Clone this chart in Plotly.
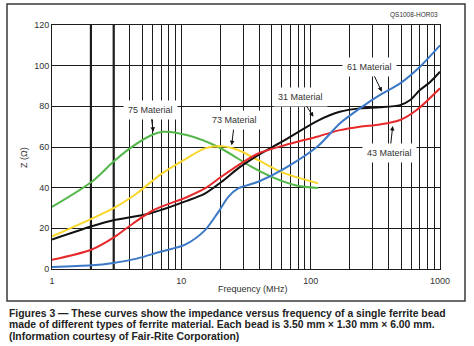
import math
import plotly.graph_objects as go

# ---- data ----
f_75 = [1, 2.03, 2.98, 4.0, 5.7, 7.2, 11, 19.3, 35, 50, 76, 114]
z_75 = [30.5, 42.9, 52.7, 59.3, 65.4, 67.5, 65.9, 60, 50.2, 45.3, 41.2, 39.8]

f_73 = [1, 2.03, 2.98, 4.52, 6.8, 11, 15.2, 20.5, 27.5, 39.3, 63, 114]
z_73 = [16, 24.8, 29.8, 37.1, 46.2, 54.4, 59.3, 60.4, 58.5, 53.5, 47, 42.2]

f_31 = [1, 2.03, 2.98, 5.7, 11, 15.2, 20.5, 27.5, 39.3, 63, 114, 168, 240, 344, 492, 585, 700, 840, 1000]
z_31 = [14.5, 21, 24, 27.3, 33.5, 37.1, 42.9, 49.5, 56, 63.4, 73, 77.3, 79, 79.5, 80.6, 83, 88, 92, 97]

f_43 = [1, 2.03, 3.05, 4.23, 6.06, 11, 15.2, 20.5, 27.5, 39.3, 63, 114, 168, 240, 344, 492, 660, 1000]
z_43 = [4.5, 9.6, 15.8, 22.4, 28.9, 35.3, 39.6, 45.5, 51, 56.8, 60.9, 65.2, 68.3, 70, 71.1, 73.3, 78.2, 88.9]

f_61 = [1, 2.03, 2.98, 4.52, 6.8, 10.7, 15.2, 19.3, 23.1, 27.5, 39.3, 63, 114, 168, 240, 344, 492, 700, 1000]
z_61 = [1, 1.8, 3, 5.1, 8.4, 12, 19, 28, 35.5, 39.6, 42.9, 49.5, 60.5, 71.6, 79, 85.6, 91.3, 99.5, 110]

series = [
    ("75 Material", f_75, z_75, "#52b748"),
    ("73 Material", f_73, z_73, "#f9d72a"),
    ("31 Material", f_31, z_31, "#111111"),
    ("43 Material", f_43, z_43, "#e62a2c"),
    ("61 Material", f_61, z_61, "#3b78c6"),
]

# labels: (text, tip freq, tip Z, text offset px x, px y)
labels = [
    ("75 Material", 6.07, 67.5, -3, -22),
    ("73 Material", 24.5, 60.9, 3, -25),
    ("31 Material", 105, 74.9, -13, -20),
    ("61 Material", 355, 87.2, -12, -25),
    ("43 Material", 431, 70.3, -3, 27),
]

x_tick_vals = [m * 10 ** d for d in range(3) for m in range(1, 10)] + [1000]
x_tick_text = [str(v) if v in (1, 10, 100, 1000) else "" for v in x_tick_vals]
y_tick_vals = [0, 20, 40, 60, 80, 100, 120]
thick_grid = [2, 3]

caption_lines = [
    "Figures 3 \u2014 These curves show the impedance versus frequency of a single ferrite bead",
    "made of different types of ferrite material. Each bead is 3.50 mm \u00d7 1.30 mm \u00d7 6.00 mm.",
    "(Information courtesy of Fair-Rite Corporation)",
]

W, H = 474, 346
L, R, T, B = 52, 34, 25, 77
PW, PH = W - L - R, H - T - B


def px_x(px):
    return (px - L) / PW


def px_y(py):
    return (H - B - py) / PH


GRID = "#1c1c1c"
FONT = "Liberation Sans, Arial, sans-serif"

fig = go.Figure()
for name, fx, fz, col in series:
    fig.add_trace(go.Scatter(x=fx, y=fz, mode="lines", name=name,
                             line=dict(color=col, width=2, shape="spline", smoothing=0.8),
                             showlegend=False, hoverinfo="skip"))

shapes = []
for v in thick_grid:
    shapes.append(dict(type="line", xref="x", yref="paper", x0=v, x1=v, y0=0, y1=1,
                       line=dict(color=GRID, width=2.2), layer="below"))
# outer frame
shapes.append(dict(type="rect", xref="paper", yref="paper",
                   x0=px_x(7), x1=px_x(465), y0=px_y(301), y1=px_y(4),
                   line=dict(color="#3a3a3a", width=1.5), layer="above"))

annotations = []
for text, lf, lz, ax, ay in labels:
    annotations.append(dict(x=math.log10(lf), y=lz, xref="x", yref="y",
                            text=text, showarrow=True, ax=ax, ay=ay,
                            arrowhead=2, arrowsize=0.9, arrowwidth=1, arrowcolor="#111",
                            font=dict(family=FONT, size=9, color="#333"),
                            bgcolor="white", borderpad=4))

annotations.append(dict(x=1.0, y=px_y(15), xref="paper", yref="paper", xanchor="right",
                        yanchor="middle", text="QS1008-HOR03", showarrow=False,
                        font=dict(family=FONT, size=6.5, color="#333")))
annotations.append(dict(x=px_x(253), y=px_y(288.5), xref="paper", yref="paper",
                        xanchor="center", yanchor="middle", text="Frequency (MHz)",
                        showarrow=False, font=dict(family=FONT, size=9, color="#333")))
annotations.append(dict(x=px_x(24), y=px_y(158), xref="paper", yref="paper",
                        xanchor="center", yanchor="middle", text="Z (\u03a9)", textangle=-90,
                        showarrow=False, font=dict(family=FONT, size=9, color="#333")))
for i, line in enumerate(caption_lines):
    annotations.append(dict(x=px_x(7), y=px_y(313.5 + 11.4 * i), xref="paper", yref="paper",
                            xanchor="left", yanchor="middle", text="<b>" + line + "</b>",
                            showarrow=False, font=dict(family=FONT, size=10.4, color="#222")))

fig.update_layout(
    width=W, height=H, margin=dict(l=L, r=R, t=T, b=B),
    paper_bgcolor="white", plot_bgcolor="white",
    shapes=shapes, annotations=annotations,
    xaxis=dict(type="log", range=[0, 3], tickvals=x_tick_vals, ticktext=x_tick_text,
               showgrid=True, gridcolor=GRID, gridwidth=1, showline=True, linecolor=GRID,
               linewidth=1, mirror=True, ticks="", zeroline=False, ticklabelstandoff=3,
               tickfont=dict(family=FONT, size=9, color="#333")),
    yaxis=dict(range=[0, 120], tickvals=y_tick_vals, showgrid=True, gridcolor=GRID,
               gridwidth=1.2, showline=True, linecolor=GRID, linewidth=1, mirror=True,
               ticks="", zeroline=False, tickfont=dict(family=FONT, size=9, color="#333")),
)

fig.write_html("out.html")
